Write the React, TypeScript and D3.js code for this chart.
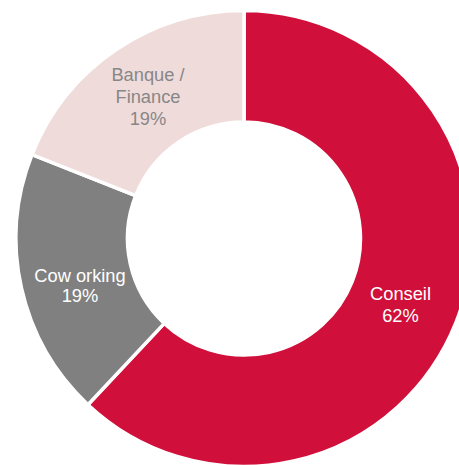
import React from "react";
import * as d3 from "d3";

// Sector split of the portfolio
const sectors = ["Conseil", "Coworking", "Banque / Finance"];
const shares = [62, 19, 19];
const labelLines = [["Conseil", "62%"], ["Cow orking", "19%"], ["Banque /", "Finance", "19%"]];
const colors = ["#D0103A", "#808080", "#F0DBDB"];
const textColors = ["#FFFFFF", "#FFFFFF", "#878787"];

const W = 459;
const H = 465;
const cx = 244;
const cy = 238.5;
const outerR = 228;
const innerR = 116.5;

// label centres (x, first baseline)
const labelPos: [number, number][] = [
  [400.5, 300],
  [80, 281.5],
  [148, 81],
];
const lineGap = [21.5, 20.5, 22];

export default function App() {
  const pie = d3
    .pie<number>()
    .sort(null)
    .value((d) => d)
    .startAngle(0)
    .endAngle(2 * Math.PI);
  const arcs = pie(shares);
  const arc = d3.arc<d3.PieArcDatum<number>>().innerRadius(innerR).outerRadius(outerR);

  return (
    <div style={{ position: "fixed", left: 0, top: 0 }}>
      <svg width={W} height={H} style={{ display: "block" }}>
        <rect width={W} height={H} fill="#FFFFFF" />
        <g transform={`translate(${cx},${cy})`}>
          {arcs.map((a, i) => (
            <path
              key={sectors[i]}
              d={arc(a) || ""}
              fill={colors[i]}
              stroke="#FFFFFF"
              strokeWidth={3.5}
              strokeLinejoin="miter"
            />
          ))}
        </g>
        {labelLines.map((lines, i) => (
          <text
            key={sectors[i]}
            x={labelPos[i][0]}
            y={labelPos[i][1]}
            textAnchor="middle"
            fontFamily="'Liberation Sans', Arial, sans-serif"
            fontSize={18.3}
            fill={textColors[i]}
          >
            {lines.map((l, j) => (
              <tspan key={j} x={labelPos[i][0]} y={labelPos[i][1] + j * lineGap[i]}>
                {l}
              </tspan>
            ))}
          </text>
        ))}
      </svg>
    </div>
  );
}
